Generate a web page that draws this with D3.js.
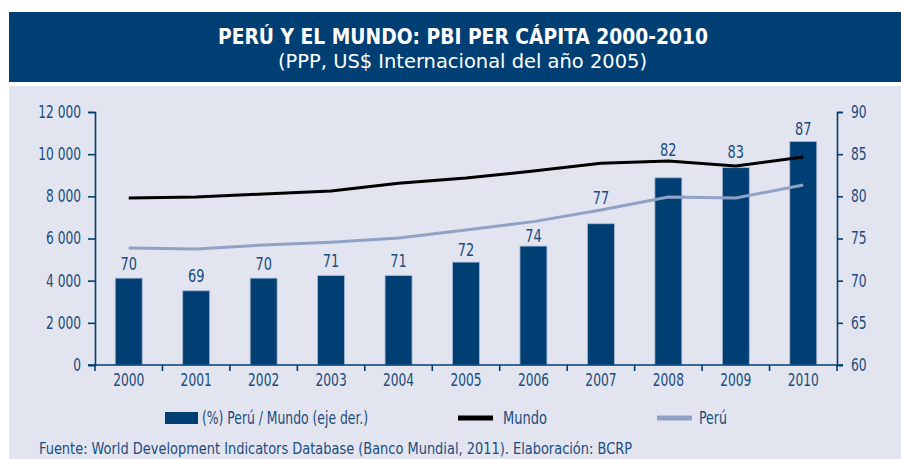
<!DOCTYPE html>
<html><head><meta charset="utf-8">
<script src="https://cdn.jsdelivr.net/npm/d3@7"></script>
<style>
body{margin:0;background:#fff;}
svg{display:block;}
text{font-family:"DejaVu Sans Condensed","DejaVu Sans",sans-serif;}
</style></head>
<body><svg id="c" width="901" height="459"></svg>
<script>
const years = ["2000","2001","2002","2003","2004","2005","2006","2007","2008","2009","2010"];
const ratio = [70.3, 68.8, 70.3, 70.6, 70.6, 72.2, 74.1, 76.75, 82.2, 83.4, 86.5];
const ratioLabels = [70, 69, 70, 71, 71, 72, 74, 77, 82, 83, 87];
const mundo = [7920, 7970, 8110, 8250, 8620, 8870, 9200, 9570, 9680, 9440, 9870];
const peru = [5550, 5500, 5690, 5820, 6020, 6400, 6800, 7350, 7970, 7920, 8540];
const leftTicks = [0, 2000, 4000, 6000, 8000, 10000, 12000];
const rightTicks = [60, 65, 70, 75, 80, 85, 90];
const title = "PERÚ Y EL MUNDO: PBI PER CÁPITA 2000-2010";
const subtitle = "(PPP, US$ Internacional del año 2005)";
const legendLabels = ["(%) Perú / Mundo (eje der.)", "Mundo", "Perú"];
const source = "Fuente: World Development Indicators Database (Banco Mundial, 2011). Elaboración: BCRP";
// gap (px) between each bar top and its value label, as placed in the original
const labelGap = [8, 9, 8, 8.6, 8.6, 6, 4.5, 20, 22, 10, 7];

const navy = "#003f74", txt = "#1a4c7e", panel = "#e2e5ef", peruCol = "#8fa2c6";
const COND = 0.8;
const svg = d3.select("#c");

function squeeze(sel, factor) {
  sel.each(function() {
    const w = this.getComputedTextLength();
    d3.select(this).attr("textLength", w * factor).attr("lengthAdjust", "spacingAndGlyphs");
  });
}
function fitTo(sel, w) { sel.attr("textLength", w).attr("lengthAdjust", "spacingAndGlyphs"); }

// header band and panel
svg.append("rect").attr("x",9).attr("y",12).attr("width",892).attr("height",70).attr("fill",navy);
svg.append("rect").attr("x",9).attr("y",86).attr("width",892).attr("height",373).attr("fill",panel);
fitTo(svg.append("text").attr("x",463).attr("y",44).attr("text-anchor","middle").attr("fill","#fff")
  .attr("font-size",21).attr("font-weight","bold").attr("font-family","DejaVu Sans").text(title), 490);
fitTo(svg.append("text").attr("x",462.5).attr("y",68).attr("text-anchor","middle").attr("fill","#fff")
  .attr("font-size",20).attr("font-family","DejaVu Sans").text(subtitle), 369);

const x = d3.scaleBand().domain(years).range([95,837]).paddingInner(0.6).paddingOuter(0.3);
const yL = d3.scaleLinear().domain([0,12000]).range([365,112]);
const yR = d3.scaleLinear().domain([60,90]).range([365,112]);

// bars
svg.append("g").selectAll("rect").data(years).join("rect")
  .attr("x", d => x(d)).attr("width", x.bandwidth())
  .attr("y", (d,i) => yR(ratio[i])).attr("height", (d,i) => yR(60) - yR(ratio[i]))
  .attr("fill", navy).attr("stroke","#a9b9d3").attr("stroke-width",0.8);

// lines
const line = arr => d3.line().x((d,i) => x(years[i]) + x.bandwidth()/2).y(d => yL(d))(arr);
svg.append("path").attr("d", line(peru)).attr("fill","none").attr("stroke",peruCol).attr("stroke-width",3);
svg.append("path").attr("d", line(mundo)).attr("fill","none").attr("stroke","#000").attr("stroke-width",3);

const lbls = svg.append("g").selectAll("text").data(years).join("text")
  .attr("x", d => x(d) + x.bandwidth()/2).attr("y", (d,i) => yR(ratio[i]) - labelGap[i])
  .attr("text-anchor","middle").attr("fill",txt).attr("font-size",18)
  .text((d,i) => ratioLabels[i]);
squeeze(lbls, COND);

// axes
const fmt = d => d === 0 ? "0" : d3.format(",")(d).replace(/,/g, " ");
const gL = svg.append("g").attr("transform","translate(95,0)")
  .call(d3.axisLeft(yL).tickValues(leftTicks).tickSize(7).tickPadding(7).tickFormat(fmt));
const gR = svg.append("g").attr("transform","translate(837,0)")
  .call(d3.axisRight(yR).tickValues(rightTicks).tickSize(6).tickPadding(8));
const gX = svg.append("g").attr("transform","translate(0,365)")
  .call(d3.axisBottom(x).tickSize(0).tickPadding(9));
[gL,gR,gX].forEach(g => {
  g.select(".domain").attr("stroke",navy).attr("stroke-width",1.6);
  g.selectAll(".tick line").attr("stroke",navy).attr("stroke-width",1.6);
  g.selectAll("text").attr("fill",txt).attr("font-size",17).attr("font-family",null);
  squeeze(g.selectAll("text"), COND);
});
gX.select(".domain").attr("d","M88,0H843");
const step = x.step();
gX.append("g").selectAll("line").data(d3.range(12)).join("line")
  .attr("x1", i => 95 + i*step).attr("x2", i => 95 + i*step).attr("y1",0).attr("y2",6)
  .attr("stroke",navy).attr("stroke-width",1.6);

// legend
const lg = svg.append("g");
lg.append("rect").attr("x",165).attr("y",412).attr("width",33).attr("height",12).attr("fill",navy);
lg.append("line").attr("x1",458).attr("x2",493).attr("y1",418).attr("y2",418).attr("stroke","#000").attr("stroke-width",5);
lg.append("line").attr("x1",657).attr("x2",692).attr("y1",418).attr("y2",418).attr("stroke",peruCol).attr("stroke-width",5);
[[202,0,166],[503,1,44],[699,2,28]].forEach(([px,i,w]) => fitTo(lg.append("text").attr("x",px).attr("y",424)
  .attr("fill",txt).attr("font-size",17).text(legendLabels[i]), w));

fitTo(svg.append("text").attr("x",39).attr("y",454).attr("fill",txt).attr("font-size",16.5).text(source), 593);
</script></body></html>
